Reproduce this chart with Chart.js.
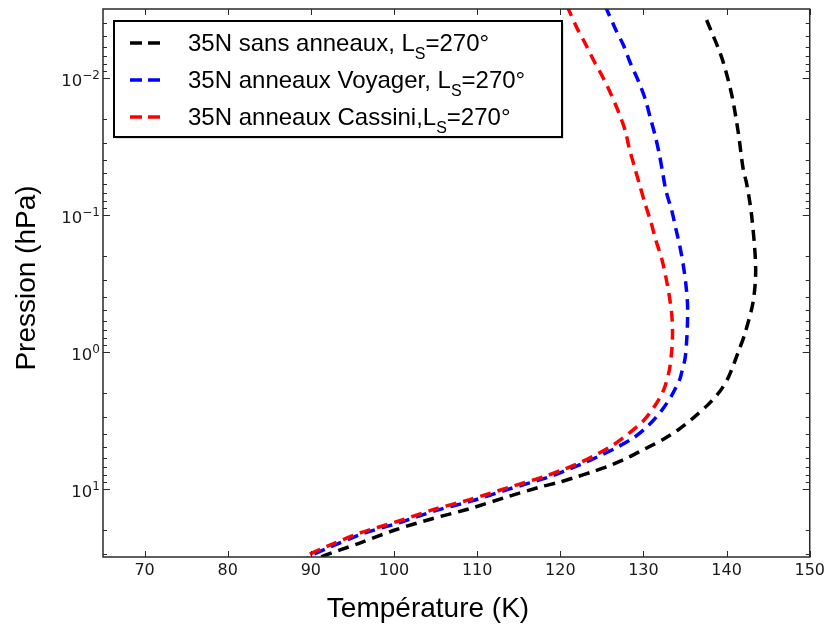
<!DOCTYPE html>
<html><head><meta charset="utf-8">
<script src="https://cdn.jsdelivr.net/npm/chart.js@4.4.1/dist/chart.umd.min.js"></script>
<style>html,body{margin:0;padding:0;background:#fff;}#wrap{width:829px;height:625px;}</style>
</head><body><div id="wrap"><canvas id="c" width="829" height="625"></canvas></div>
<script>
// ---- axis settings / ticks ----
const xRange = [65, 150];
const yRange = [0.00316, 31.6];
const xTickValues = [70, 80, 90, 100, 110, 120, 130, 140, 150];
const yMajorTicks = [0.01, 0.1, 1, 10];
const yTickBase = '10';
const yTickExponents = ['\u22122', '\u22121', '0', '1'];
const xTitle = 'Température (K)';
const yTitle = 'Pression (hPa)';

// ---- series labels ----
const seriesLabelMain = ['35N sans anneaux, L', '35N anneaux Voyager, L', '35N anneaux Cassini,L'];
const seriesLabelSub = 'S';
const seriesLabelEnd = '=270°';
const seriesColors = ['#000000', '#0000ff', '#ff0000'];

// ---- series values (temperature K, pressure hPa) ----
const tempSans = [137.6, 139.4, 140.6, 141.4, 142.0, 142.4, 143.0, 143.5, 143.2, 142.2, 141.4, 140.9, 140.2, 139.2, 137.8, 136.0, 134.2, 132.4, 130.2, 128.2, 126.2, 124.0, 121.8, 119.8, 117.8, 113.4, 109.0, 104.6, 100.2, 95.8, 91.4, 90.9];
const presSans = [0.0038, 0.0071, 0.0132, 0.0251, 0.0468, 0.059, 0.10, 0.245, 0.43, 0.74, 1.01, 1.22, 1.55, 1.95, 2.43, 3.05, 3.72, 4.37, 5.13, 5.92, 6.70, 7.50, 8.28, 9.02, 9.66, 11.6, 14.1, 16.6, 20.0, 25.1, 31.3, 33.0];

const tempVoyager = [125.4, 126.6, 127.6, 128.4, 129.4, 130.2, 130.8, 131.4, 131.9, 132.3, 132.7, 133.4, 133.9, 134.4, 134.8, 135.1, 135.3, 135.3, 135.2, 135.0, 134.6, 134.4, 133.4, 132.2, 130.6, 128.8, 126.8, 124.8, 122.6, 120.6, 118.4, 113.8, 109.4, 105.0, 100.6, 96.2, 92.2, 89.8, 89.5];
const presVoyager = [0.0030, 0.00438, 0.00581, 0.00777, 0.01064, 0.01425, 0.0194, 0.0264, 0.0360, 0.0490, 0.0667, 0.0933, 0.127, 0.173, 0.236, 0.321, 0.449, 0.612, 0.832, 1.13, 1.42, 1.58, 2.09, 2.69, 3.47, 4.27, 5.01, 5.75, 6.61, 7.41, 8.32, 10.1, 12.3, 14.5, 17.8, 21.4, 26.9, 31.3, 33.0];

const tempCassini = [120.8, 122.0, 123.0, 124.0, 125.1, 126.1, 127.0, 127.8, 128.3, 128.9, 129.5, 130.2, 130.9, 131.5, 132.2, 132.7, 133.1, 133.4, 133.5, 133.4, 133.1, 132.4, 131.4, 130.0, 128.2, 126.4, 124.4, 122.4, 120.4, 118.2, 113.6, 109.2, 104.8, 100.4, 96.0, 92.0, 89.5, 89.2];
const presCassini = [0.0030, 0.00434, 0.00564, 0.00748, 0.0099, 0.01324, 0.0178, 0.0243, 0.0330, 0.0443, 0.0596, 0.0834, 0.1137, 0.1546, 0.210, 0.287, 0.390, 0.531, 0.724, 0.985, 1.38, 1.93, 2.48, 3.20, 3.98, 4.79, 5.62, 6.46, 7.24, 8.13, 9.9, 12.0, 14.2, 17.4, 21.0, 26.3, 31.0, 33.0];

function pts(t, p) { return t.map((v, i) => ({x: v, y: p[i]})); }
const seriesT = [tempSans, tempVoyager, tempCassini];
const seriesP = [presSans, presVoyager, presCassini];

const AXIS_COLOR = '#2a2a2a';
const yMinorTicks = [];
for (let e = -3; e <= 1; e++) {
  for (let m = 2; m <= 9; m++) {
    const v = m * Math.pow(10, e);
    if (v > yRange[0] && v < yRange[1]) yMinorTicks.push(v);
  }
}

const decorPlugin = {
  id: 'decor',
  afterDraw(chart) {
    const ctx = chart.ctx;
    const a = chart.chartArea;
    const xs = chart.scales.x, ys = chart.scales.y;
    ctx.save();
    ctx.strokeStyle = AXIS_COLOR;
    ctx.lineWidth = 1.5;
    ctx.strokeRect(a.left, a.top, a.right - a.left, a.bottom - a.top);
    ctx.lineWidth = 1;
    ctx.beginPath();
    xTickValues.forEach(v => {
      const px = Math.round(xs.getPixelForValue(v)) + 0.5;
      ctx.moveTo(px, a.bottom); ctx.lineTo(px, a.bottom - 6);
      ctx.moveTo(px, a.top); ctx.lineTo(px, a.top + 6);
    });
    yMajorTicks.forEach(v => {
      const py = Math.round(ys.getPixelForValue(v)) + 0.5;
      ctx.moveTo(a.left, py); ctx.lineTo(a.left + 7, py);
      ctx.moveTo(a.right, py); ctx.lineTo(a.right - 7, py);
    });
    yMinorTicks.forEach(v => {
      const py = Math.round(ys.getPixelForValue(v)) + 0.5;
      ctx.moveTo(a.left, py); ctx.lineTo(a.left + 4, py);
      ctx.moveTo(a.right, py); ctx.lineTo(a.right - 4, py);
    });
    ctx.stroke();

    // y tick labels with superscript exponents
    ctx.fillStyle = '#1a1a1a';
    ctx.textBaseline = 'alphabetic';
    yMajorTicks.forEach((v, i) => {
      const py = ys.getPixelForValue(v);
      const right = a.left - 3;
      ctx.font = '12px "DejaVu Sans"';
      ctx.textAlign = 'right';
      ctx.fillText(yTickExponents[i], right, py + 1);
      const ew = ctx.measureText(yTickExponents[i]).width;
      ctx.font = '16.5px "DejaVu Sans"';
      ctx.fillText(yTickBase, right - ew, py + 8.5);
    });

    // axis titles
    ctx.fillStyle = '#000';
    ctx.font = '28px "Liberation Sans"';
    ctx.textAlign = 'center';
    ctx.textBaseline = 'alphabetic';
    ctx.fillText(xTitle, 428, 617);
    ctx.save();
    ctx.translate(35, 278);
    ctx.rotate(-Math.PI / 2);
    ctx.fillText(yTitle, 0, 0);
    ctx.restore();

    // legend
    const bx = 114, by = 21, bw = 448, bh = 116;
    ctx.fillStyle = 'rgba(0,0,0,0.12)';
    ctx.fillRect(bx + 2, by + 2, bw, bh);
    ctx.fillStyle = '#fff';
    ctx.fillRect(bx, by, bw, bh);
    ctx.strokeStyle = '#000';
    ctx.lineWidth = 2;
    ctx.strokeRect(bx, by, bw, bh);
    const rows = [43, 80, 117];
    chart.data.datasets.forEach((ds, i) => {
      const y = rows[i];
      ctx.strokeStyle = ds.borderColor;
      ctx.lineWidth = 3.5;
      ctx.setLineDash([12, 6]);
      ctx.beginPath();
      ctx.moveTo(130, y); ctx.lineTo(161, y);
      ctx.stroke();
      ctx.setLineDash([]);
      ctx.fillStyle = '#000';
      ctx.textAlign = 'left';
      ctx.font = '24px "Liberation Sans"';
      const base = y + 8;
      let x = 188;
      ctx.fillText(seriesLabelMain[i], x, base);
      x += ctx.measureText(seriesLabelMain[i]).width;
      ctx.font = '16px "Liberation Sans"';
      ctx.fillText(seriesLabelSub, x, base + 8);
      x += ctx.measureText(seriesLabelSub).width;
      ctx.font = '24px "Liberation Sans"';
      ctx.fillText(seriesLabelEnd, x, base);
    });
    ctx.restore();
  }
};

const datasets = seriesT.map((t, i) => ({
  label: seriesLabelMain[i] + '\u209B' + seriesLabelEnd,
  data: pts(t, seriesP[i]),
  borderColor: seriesColors[i],
  backgroundColor: seriesColors[i],
  borderWidth: 3.5,
  borderDash: [11, 7],
  pointRadius: 0,
  showLine: true,
  tension: 0.3,
  fill: false,
  clip: 0,
  order: 2 - i
}));

new Chart(document.getElementById('c'), {
  type: 'scatter',
  data: { datasets },
  options: {
    responsive: false,
    animation: false,
    devicePixelRatio: 1,
    layout: { padding: { top: 9, right: 17, left: 0, bottom: 0 } },
    plugins: { legend: { display: false }, tooltip: { enabled: false } },
    scales: {
      x: {
        type: 'linear', min: xRange[0], max: xRange[1],
        afterBuildTicks: s => { s.ticks = xTickValues.map(v => ({ value: v })); },
        afterFit: s => { s.height = 68; },
        grid: { display: false, drawTicks: false },
        border: { display: false },
        ticks: { autoSkip: false, maxRotation: 0, padding: 4, color: '#1a1a1a',
                 font: { family: 'DejaVu Sans', size: 16 } }
      },
      y: {
        type: 'logarithmic', reverse: true, min: yRange[0], max: yRange[1],
        afterBuildTicks: s => { s.ticks = yMajorTicks.map(v => ({ value: v, major: true })); },
        afterFit: s => { s.width = 103; },
        grid: { display: false, drawTicks: false },
        border: { display: false },
        ticks: { display: false }
      }
    }
  },
  plugins: [decorPlugin]
});
</script></body></html>
